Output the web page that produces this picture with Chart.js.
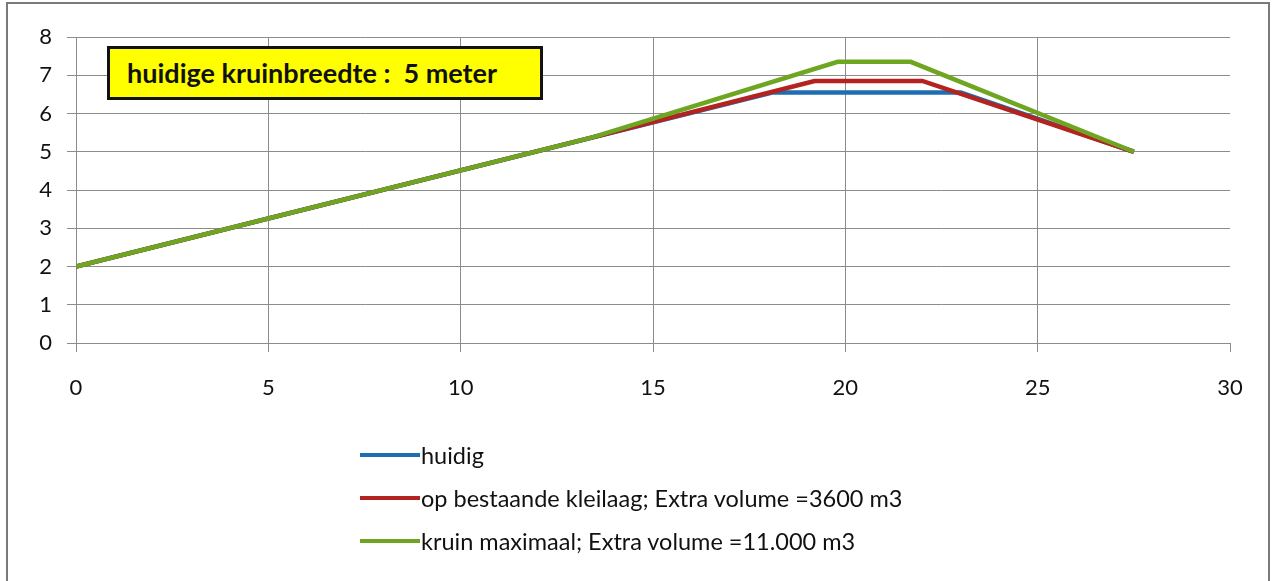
<!DOCTYPE html>
<html>
<head>
<meta charset="utf-8">
<script src="https://cdn.jsdelivr.net/npm/chart.js@4"></script>
<style>
  html, body { margin: 0; padding: 0; background: #fff; }
  #wrap { position: relative; width: 1275px; height: 581px; overflow: hidden; font-family: Lato, "Open Sans", sans-serif; }
  #frame { position: absolute; left: 6px; top: 2px; width: 1264px; height: 620px; border: 2px solid #7a7a7a; box-sizing: border-box; }
  #chart { position: absolute; left: 0; top: 0; }
  #note {
    position: absolute; left: 107px; top: 46px; width: 436px; height: 54px; box-sizing: border-box;
    background: #ffff00; border: 3px solid #111; font-weight: bold; font-size: 27px; line-height: 47px;
    padding-left: 17px; color: #111; white-space: pre;
  }
  #legend { position: absolute; left: 360px; top: 433px; }
  .item { display: flex; align-items: center; height: 43px; font-size: 23.5px; color: #111; }
  .swatch { width: 60px; height: 4px; margin-right: 1px; }
</style>
</head>
<body>
<div id="wrap">
  <div id="frame"></div>
  <canvas id="chart" width="1275" height="581"></canvas>
  <div id="note">huidige kruinbreedte :  5 meter</div>
  <div id="legend"></div>
</div>
<script>
const seriesLabels = [
  'huidig',
  'op bestaande kleilaag; Extra volume =3600 m3',
  'kruin maximaal; Extra volume =11.000 m3'
];
const seriesColors = ['#1f6db2', '#b3231f', '#6ea621'];

const currentX = [0, 18.1, 23.0, 27.5];
const currentY = [2, 6.55, 6.55, 5.0];
const clayX = [0, 13.4, 19.2, 22.0, 27.5];
const clayY = [2, 5.37, 6.85, 6.85, 5.0];
const maxX = [0, 13.4, 19.8, 21.7, 27.5];
const maxY = [2, 5.37, 7.35, 7.35, 5.0];

const xTicks = [0, 5, 10, 15, 20, 25, 30];
const yTicks = [0, 1, 2, 3, 4, 5, 6, 7, 8];

const toPoints = (xs, ys) => xs.map((x, i) => ({ x, y: ys[i] }));
const seriesPoints = [
  toPoints(currentX, currentY),
  toPoints(clayX, clayY),
  toPoints(maxX, maxY)
];

const gridGray = '#8c8c8c';
const font = { family: 'Lato, "Open Sans", sans-serif', size: 22 };

new Chart(document.getElementById('chart'), {
  type: 'line',
  data: {
    datasets: seriesPoints.map((pts, i) => ({
      label: seriesLabels[i],
      data: pts,
      borderColor: seriesColors[i],
      backgroundColor: seriesColors[i],
      borderWidth: 4.5,
      pointRadius: 0,
      tension: 0,
      order: 3 - i
    }))
  },
  options: {
    responsive: false,
    animation: false,
    layout: { padding: { left: 0, top: 37, right: 45, bottom: 0 } },
    plugins: {
      legend: { display: false },
      tooltip: { enabled: false }
    },
    scales: {
      x: {
        type: 'linear',
        min: 0,
        max: 30,
        afterBuildTicks: axis => { axis.ticks = xTicks.map(v => ({ value: v })); },
        afterFit: axis => { axis.height = 581 - 343; },
        ticks: { color: '#111', font, padding: 23, maxRotation: 0 },
        grid: {
          color: ctx => (ctx.tick && ctx.tick.value === 30) ? 'rgba(0,0,0,0)' : gridGray,
          tickColor: gridGray,
          tickLength: 9,
          lineWidth: 1
        },
        border: { color: gridGray, width: 1 }
      },
      y: {
        min: 0,
        max: 8,
        afterBuildTicks: axis => { axis.ticks = yTicks.map(v => ({ value: v })); },
        afterFit: axis => { axis.width = 76; },
        ticks: { color: '#111', font, padding: 15 },
        grid: { color: gridGray, tickColor: gridGray, tickLength: 9, lineWidth: 1 },
        border: { color: gridGray, width: 1 }
      }
    }
  }
});

const legend = document.getElementById('legend');
seriesLabels.forEach((label, i) => {
  const row = document.createElement('div');
  row.className = 'item';
  const sw = document.createElement('span');
  sw.className = 'swatch';
  sw.style.background = seriesColors[i];
  const txt = document.createElement('span');
  txt.textContent = label;
  row.appendChild(sw);
  row.appendChild(txt);
  legend.appendChild(row);
});
</script>
</body>
</html>
